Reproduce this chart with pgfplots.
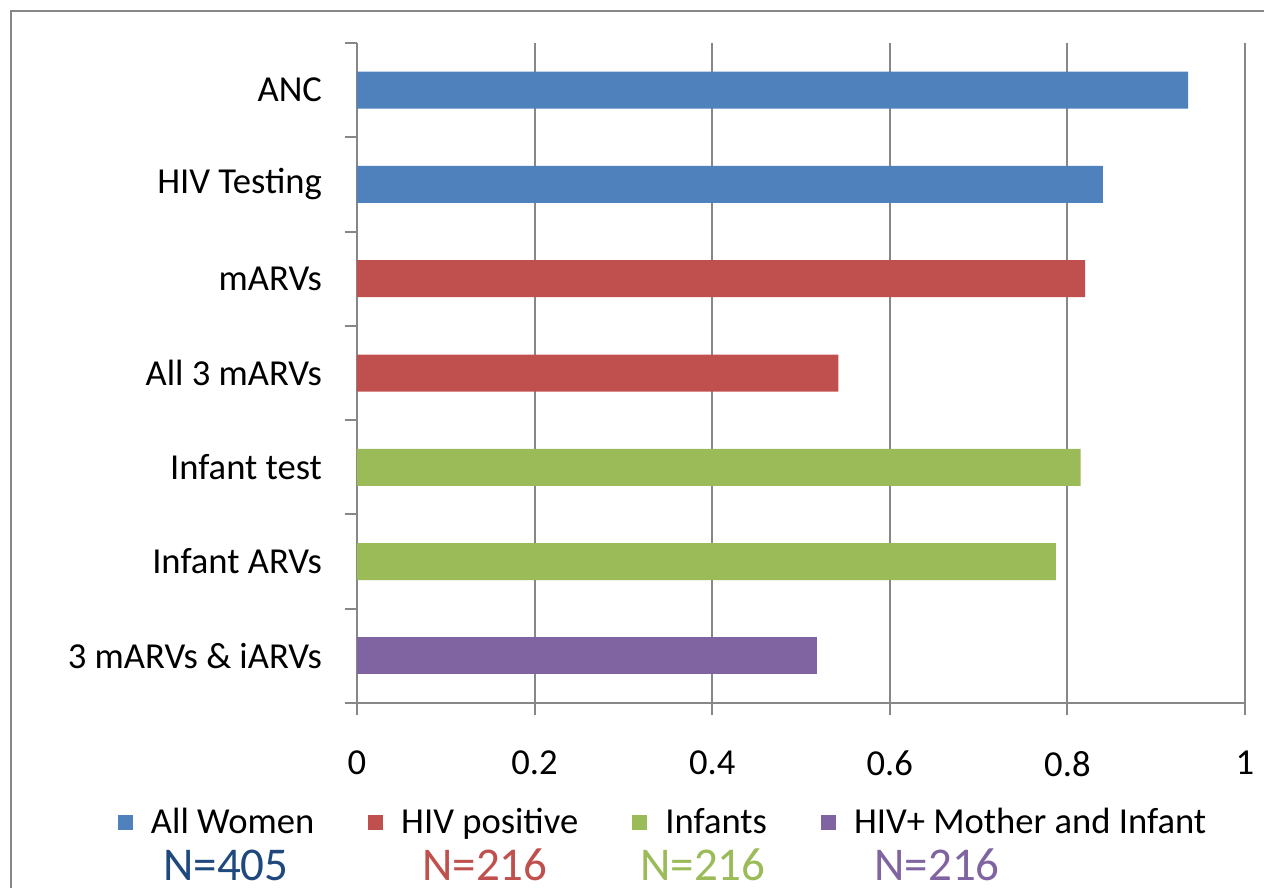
\documentclass[border=0pt]{standalone}
\usepackage{pgfplots}
\pgfplotsset{compat=1.18}
\usepackage{fontspec}
\setmainfont{Carlito}
\definecolor{cblue}{HTML}{4F81BD}
\definecolor{cred}{HTML}{C0504D}
\definecolor{cgreen}{HTML}{9BBB59}
\definecolor{cpurple}{HTML}{8064A2}
\definecolor{cnavy}{HTML}{1F497D}
\definecolor{axgray}{HTML}{878787}
\begin{document}
\begin{tikzpicture}
\useasboundingbox (0,0) rectangle (632pt,-444pt);
\draw[color=axgray, line width=1pt] (5.5pt,-5.5pt) rectangle (700pt,-520pt);
\begin{axis}[
  at={(178.5pt,-351.5pt)}, anchor=south west,
  scale only axis, width=444pt, height=330pt,
  xbar, bar width=18.5pt, bar shift=0pt,
  xmin=0, xmax=1, ymin=-0.5, ymax=6.5, y dir=reverse,
  xtick={0,0.2,0.4,0.6,0.8,1},
  xticklabels={0,0.2,0.4,0.6,0.8,1},
  ytick={-0.5,0.5,1.5,2.5,3.5,4.5,5.5,6.5},
  yticklabels={},
  extra y ticks={0,1,2,3,4,5,6},
  extra y tick labels={ANC,HIV Testing,mARVs,All 3 mARVs,Infant test,Infant ARVs,3 mARVs \& iARVs},
  extra y tick style={major tick length=0pt, grid=none},
  axis x line*=bottom, axis y line*=left,
  xmajorgrids,
  major grid style={axgray, line width=1pt},
  axis line style={axgray, line width=1pt},
  tick align=outside,
  major tick length=6pt,
  tick style={axgray, line width=1pt},
  /pgf/number format/assume math mode=true,
  tick label style={font=\fontsize{18.3}{22}\selectfont, text=black},
  xticklabel style={yshift=-14.5pt},
  yticklabel style={xshift=-14pt},
  legend columns=4,
  legend style={at={(axis description cs:0,0)}, anchor=west, xshift=-119.5pt, yshift=-59.5pt,
    draw=none, fill=none, inner sep=0pt, outer sep=0pt,
    font=\fontsize{18.3}{22}\selectfont,
    /tikz/every even column/.append style={column sep=25pt}},
  legend image code/.code={\fill[#1] (0pt,-3.75pt) rectangle (7.5pt,3.75pt); \path (14.5pt,0pt);},
]
\addplot[fill=cblue, draw=none] coordinates {(0.936,0) (0.840,1)};
\addlegendentry{All Women}
\addplot[fill=cred, draw=none] coordinates {(0.820,2) (0.542,3)};
\addlegendentry{HIV positive}
\addplot[fill=cgreen, draw=none] coordinates {(0.815,4) (0.787,5)};
\addlegendentry{Infants}
\addplot[fill=cpurple, draw=none] coordinates {(0.518,6)};
\addlegendentry{HIV+ Mother and Infant}
\end{axis}
\begin{scope}[every node/.style={font=\fontsize{23.5}{28}\selectfont, inner sep=0pt}]
\node[text=cnavy] at (113pt,-432.5pt) {N=405};
\node[text=cred] at (242.5pt,-432.5pt) {N=216};
\node[text=cgreen] at (351.5pt,-432.5pt) {N=216};
\node[text=cpurple] at (468.5pt,-432.5pt) {N=216};
\end{scope}
\end{tikzpicture}
\end{document}
